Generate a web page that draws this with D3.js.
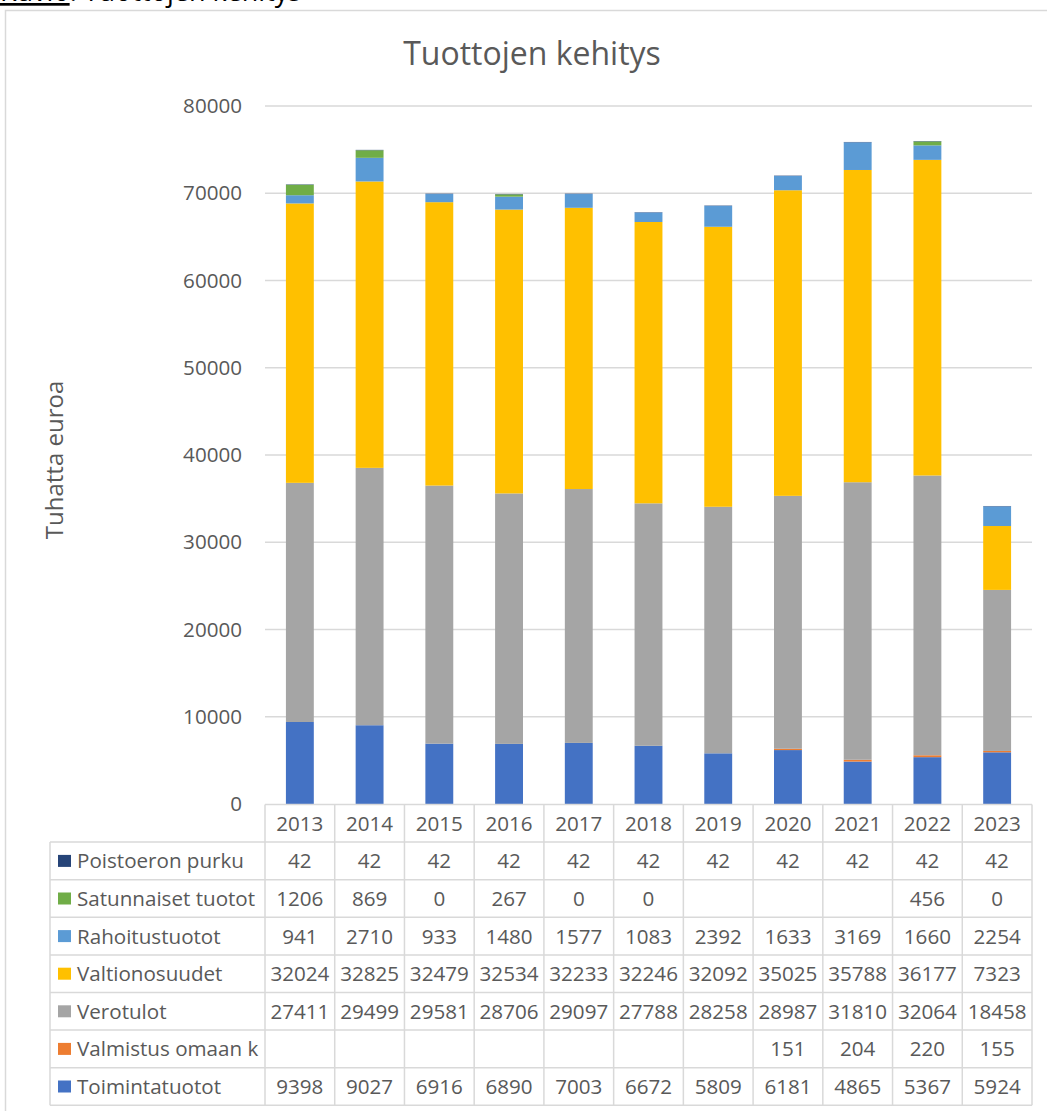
<!DOCTYPE html>
<html>
<head>
<meta charset="utf-8">
<script src="https://cdn.jsdelivr.net/npm/d3@7"></script>
<style>
  body { margin: 0; background: #fff; }
  svg { display: block; font-family: "Open Sans", sans-serif; }
</style>
</head>
<body>
<div id="chart"></div>
<script>
// Data
const years = ["2013", "2014", "2015", "2016", "2017", "2018", "2019", "2020", "2021", "2022", "2023"]

// series in stacking order, bottom first
const seriesNames = ["Toimintatuotot", "Valmistus omaan k", "Verotulot", "Valtionosuudet",
                     "Rahoitustuotot", "Satunnaiset tuotot", "Poistoeron purku"]
const seriesColors = ["#4472C4", "#ED7D31", "#A5A5A5", "#FFC000", "#5B9BD5", "#70AD47", "#264478"]

const toimintatuotot = [9398, 9027, 6916, 6890, 7003, 6672, 5809, 6181, 4865, 5367, 5924]
const valmistus      = [null, null, null, null, null, null, null, 151, 204, 220, 155]
const verotulot      = [27411, 29499, 29581, 28706, 29097, 27788, 28258, 28987, 31810, 32064, 18458]
const valtionosuudet = [32024, 32825, 32479, 32534, 32233, 32246, 32092, 35025, 35788, 36177, 7323]
const rahoitus       = [941, 2710, 933, 1480, 1577, 1083, 2392, 1633, 3169, 1660, 2254]
const satunnaiset    = [1206, 869, 0, 267, 0, 0, null, null, null, 456, 0]
const poistoero      = [42, 42, 42, 42, 42, 42, 42, 42, 42, 42, 42]

const seriesValues = [toimintatuotot, valmistus, verotulot, valtionosuudet, rahoitus, satunnaiset, poistoero]
const yTicks = [0, 10000, 20000, 30000, 40000, 50000, 60000, 70000, 80000]

const width = 1047
const height = 1111
const plotLeft = 265, plotRight = 1032
const plotTop = 106, plotBottom = 804
const rowH = 37.6
const fs = 20.6
const textColor = "#595959"
const lineColor = "#d9d9d9"

const svg = d3.select("#chart").append("svg")
    .attr("width", width)
    .attr("height", height)

// caption above the chart, mostly cut off like in the source
const cap = svg.append("text")
    .attr("x", 0)
    .attr("y", 1)
    .attr("font-size", 27)
    .attr("fill", "#000")
cap.append("tspan").attr("text-decoration", "underline").text("Kuvio")
cap.append("tspan").text(": Tuottojen kehitys")

// outer frame
svg.append("rect")
    .attr("x", 5.5).attr("y", 10.5)
    .attr("width", width + 10).attr("height", height + 10)
    .attr("fill", "none")
    .attr("stroke", lineColor)
    .attr("stroke-width", 1.5)

// scales
const x = d3.scaleBand().domain(years).range([plotLeft, plotRight]).paddingInner(0.6).paddingOuter(0.3)
const xCell = d3.scaleBand().domain(years).range([plotLeft, plotRight]).padding(0)
const y = d3.scaleLinear().domain([0, 80000]).range([plotBottom, plotTop])

// stacked data
const rows = years.map((yr, i) => {
  const r = { year: yr }
  seriesNames.forEach((s, j) => { r[s] = seriesValues[j][i] || 0 })
  return r
})
const stacked = d3.stack().keys(seriesNames)(rows)

// grid lines
svg.append("g")
  .selectAll("line")
  .data(yTicks.filter(t => t > 0))
  .join("line")
    .attr("x1", plotLeft).attr("x2", plotRight)
    .attr("y1", d => y(d)).attr("y2", d => y(d))
    .attr("stroke", lineColor)
    .attr("stroke-width", 1.5)

// y axis
const yAxis = svg.append("g")
    .attr("transform", `translate(${plotLeft - 20},0)`)
    .call(d3.axisLeft(y).tickValues(yTicks).tickSize(0).tickPadding(3).tickFormat(d3.format("d")))
yAxis.select(".domain").remove()
yAxis.selectAll("text")
    .attr("fill", textColor)
    .attr("font-size", fs)
    .attr("font-family", "Open Sans, sans-serif")

// y axis title
svg.append("text")
    .attr("transform", "translate(63,460) rotate(-90)")
    .attr("text-anchor", "middle")
    .attr("font-size", 24)
    .attr("fill", textColor)
    .text("Tuhatta euroa")

// chart title
svg.append("text")
    .attr("x", 532)
    .attr("y", 65)
    .attr("text-anchor", "middle")
    .attr("font-size", 32)
    .attr("fill", textColor)
    .text("Tuottojen kehitys")

// bars
svg.append("g")
  .selectAll("g")
  .data(stacked)
  .join("g")
    .attr("fill", (d, i) => seriesColors[i])
  .selectAll("rect")
  .data(d => d)
  .join("rect")
    .attr("x", d => x(d.data.year))
    .attr("width", x.bandwidth())
    .attr("y", d => y(d[1]))
    .attr("height", d => y(d[0]) - y(d[1]))

// data table
const table = svg.append("g")
const tableTop = plotBottom + 0.5
const tableBottom = tableTop + rowH * 8
const labelLeft = 50

// horizontal lines
table.append("line")
    .attr("x1", plotLeft).attr("x2", plotRight)
    .attr("y1", tableTop).attr("y2", tableTop)
    .attr("stroke", lineColor).attr("stroke-width", 1.5)
for (let k = 1; k <= 8; k++) {
  table.append("line")
      .attr("x1", labelLeft).attr("x2", plotRight)
      .attr("y1", tableTop + k * rowH).attr("y2", tableTop + k * rowH)
      .attr("stroke", lineColor).attr("stroke-width", 1.5)
}
// vertical lines
table.append("line")
    .attr("x1", labelLeft).attr("x2", labelLeft)
    .attr("y1", tableTop + rowH).attr("y2", tableBottom)
    .attr("stroke", lineColor).attr("stroke-width", 1.5)
years.concat(["end"]).forEach((yr, i) => {
  const xx = i < years.length ? xCell(yr) : plotRight
  table.append("line")
      .attr("x1", xx).attr("x2", xx)
      .attr("y1", tableTop).attr("y2", tableBottom)
      .attr("stroke", lineColor).attr("stroke-width", 1.5)
})

// header row
table.selectAll("text.year")
  .data(years)
  .join("text")
    .attr("class", "year")
    .attr("x", d => xCell(d) + xCell.bandwidth() / 2)
    .attr("y", tableTop + rowH / 2)
    .attr("dy", "0.36em")
    .attr("text-anchor", "middle")
    .attr("font-size", fs)
    .attr("fill", textColor)
    .text(d => d)

// series rows, top row is the last series
const tableOrder = seriesNames.map((s, j) => j).reverse()
tableOrder.forEach((j, r) => {
  const cy = tableTop + rowH * (r + 1) + rowH / 2
  table.append("rect")
      .attr("x", 58).attr("y", cy - 6)
      .attr("width", 13).attr("height", 12)
      .attr("fill", seriesColors[j])
  table.append("text")
      .attr("x", 77).attr("y", cy)
      .attr("dy", "0.36em")
      .attr("font-size", fs)
      .attr("fill", textColor)
      .text(seriesNames[j])
  table.selectAll("text.v" + j)
    .data(seriesValues[j])
    .join("text")
      .attr("class", "v" + j)
      .attr("x", (d, i) => xCell(years[i]) + xCell.bandwidth() / 2)
      .attr("y", cy)
      .attr("dy", "0.36em")
      .attr("text-anchor", "middle")
      .attr("font-size", fs)
      .attr("fill", textColor)
      .text(d => d == null ? "" : d)
})
</script>
</body>
</html>
